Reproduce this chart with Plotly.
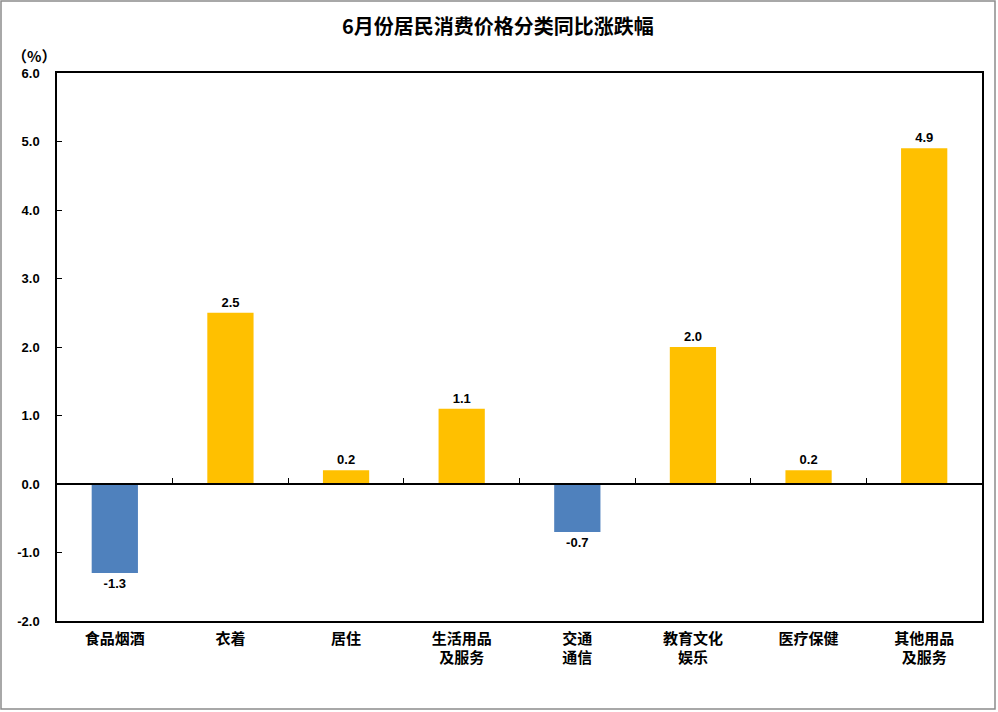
import plotly.graph_objects as go

categories = ["食品烟酒", "衣着", "居住", "生活用品<br>及服务", "交通<br>通信",
              "教育文化<br>娱乐", "医疗保健", "其他用品<br>及服务"]
values = [-1.3, 2.5, 0.2, 1.1, -0.7, 2.0, 0.2, 4.9]
y_ticks = [-2.0, -1.0, 0.0, 1.0, 2.0, 3.0, 4.0, 5.0, 6.0]
title_text = "6月份居民消费价格分类同比涨跌幅"
unit_text = "（%）"

POS = "#FFC000"
NEG = "#4F81BD"
colors = [NEG if v < 0 else POS for v in values]

W, H = 998, 712
ML, MR, MT, MB = 57, 16, 73, 91
PW, PH = W - ML - MR, H - MT - MB

cjk = "Noto Sans CJK SC"
num = "Liberation Sans"

fig = go.Figure()
fig.add_trace(go.Bar(
    x=categories, y=values,
    marker=dict(color=colors, line=dict(width=0)),
    text=[f"{v:.1f}" for v in values],
    textposition="outside",
    textfont=dict(family=num, size=13, color="black", weight="bold"),
    cliponaxis=False,
    hoverinfo="x+y",
))
# invisible trace to carry the zero-line axis with boundary ticks
fig.add_trace(go.Scatter(x=[-0.5, 7.5], y=[0, 0], xaxis="x2", mode="lines",
                         line=dict(width=0), hoverinfo="skip", showlegend=False))

y0, y1 = y_ticks[0], y_ticks[-1]
fig.update_layout(
    width=W, height=H,
    margin=dict(l=ML, r=MR, t=MT, b=MB),
    paper_bgcolor="white", plot_bgcolor="white",
    showlegend=False,
    bargap=0.6,
    xaxis=dict(
        type="category", range=[-0.5, len(categories) - 0.5],
        showline=True, linecolor="black", linewidth=1.5, mirror=True,
        showgrid=False, ticks="", zeroline=False,
        tickfont=dict(family=cjk, size=15, color="black", weight="bold"),
        ticklabelstandoff=3,
    ),
    xaxis2=dict(
        overlaying="x", side="top", anchor="free",
        position=(0 - y0) / (y1 - y0),
        range=[-0.5, len(categories) - 0.5],
        showline=True, linecolor="black", linewidth=1.5,
        showgrid=False, zeroline=False,
        tickvals=[i + 0.5 for i in range(len(categories) - 1)],
        ticks="outside", ticklen=5, tickwidth=1, tickcolor="black",
        showticklabels=False,
    ),
    yaxis=dict(
        range=[y0, y1], tickvals=y_ticks,
        ticktext=[f"{t:.1f}" for t in y_ticks],
        showline=True, linecolor="black", linewidth=1.5, mirror=True,
        showgrid=False, zeroline=False,
        ticks="inside", ticklen=5, tickwidth=1, tickcolor="black",
        tickfont=dict(family=num, size=13, color="black", weight="bold"),
        ticklabelstandoff=13,
    ),
    annotations=[
        dict(text=title_text, xref="paper", yref="paper",
             x=(498 - ML) / PW, y=1 + (MT - 26) / PH, xanchor="center", yanchor="middle",
             showarrow=False, font=dict(family=cjk, size=20, color="black", weight="bold")),
        dict(text=unit_text, xref="paper", yref="paper",
             x=(34 - ML) / PW, y=1 + (MT - 55) / PH, xanchor="center", yanchor="middle",
             showarrow=False, font=dict(family=cjk, size=15, color="black", weight="bold")),
    ],
    shapes=[
        dict(type="rect", xref="paper", yref="paper",
             x0=(1 - ML) / PW, x1=(995 - ML) / PW,
             y0=(MT + PH - 709) / PH, y1=1 + (MT - 1) / PH,
             line=dict(color="#8c8c8c", width=1.5), fillcolor="rgba(0,0,0,0)", layer="below"),
    ],
)

fig.write_html("out.html", config={"displayModeBar": False},
               post_script="document.body.style.margin='0';document.body.style.overflow='hidden';")
